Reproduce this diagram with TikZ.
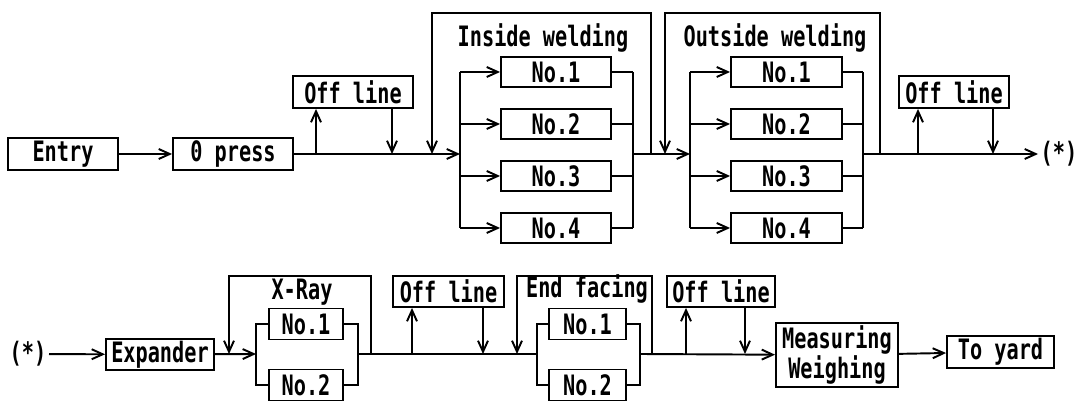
\documentclass[tikz,border=0pt]{standalone}
\usepackage{fontspec}
\setmonofont{DejaVu Sans Mono}[FakeStretch=0.72]
\usepackage{tikz}
\usetikzlibrary{arrows.meta}
\tikzset{blk/.style={draw,line width=1.1pt,inner sep=0pt,font=\ttfamily\bfseries\fontsize{16}{17}\selectfont},
lbl/.style={inner sep=1pt,font=\ttfamily\bfseries\fontsize{16}{17}\selectfont}}

\begin{document}
\begin{tikzpicture}[x=0.02cm,y=-0.02cm,line width=1.1pt,>={Straight Barb[length=2.2mm,width=2mm]}]
\useasboundingbox(0,0)rectangle(1085,401);
\node[blk,minimum width=2.2cm,minimum height=0.64cm](entry)at(63,154){Entry};
\node[blk,minimum width=2.4cm,minimum height=0.64cm](press)at(233,154){0 press};
\node[blk,minimum width=2.4cm,minimum height=0.64cm](off1)at(353,92){Off line};
\node[lbl](inlbl)at(543,38){Inside welding};
\node[lbl](outlbl)at(775,38){Outside welding};
\foreach \i/\y in {1/72,2/124,3/176,4/228}{
\node[blk,minimum width=2.2cm,minimum height=0.6cm](in\i)at(556,\y){No.\i};
\node[blk,minimum width=2.22cm,minimum height=0.6cm](out\i)at(786.5,\y){No.\i};}
\node[blk,minimum width=2.2cm,minimum height=0.64cm](off2)at(954,92){Off line};
\node[lbl,anchor=west](star1)at(1038,154){(*)};
\coordinate(up1)at(316,154);\coordinate(dn1)at(392,154);
\coordinate(lp1)at(432,154);\coordinate(fk1)at(460,154);
\coordinate(mg1)at(633,154);\coordinate(rt1)at(651,154);
\coordinate(lp2)at(665,154);\coordinate(fk2)at(690,154);
\coordinate(mg2)at(863,154);\coordinate(rt2)at(880,154);
\coordinate(up2)at(918,154);\coordinate(dn2)at(993,154);
\draw[->](entry)--(press);
\draw[->](press)--(fk1);
\draw[->](up1)--(up1|-off1.south);
\draw[->](dn1|-off1.south)--(dn1);
\draw[->](rt1)--++(0,-141)-|(lp1);
\draw(fk1|-in1)--(fk1|-in4);
\draw(mg1|-in1)--(mg1|-in4);
\draw[->](mg1)--(fk2);
\draw[->](rt2)--++(0,-141)-|(lp2);
\draw(fk2|-out1)--(fk2|-out4);
\draw(mg2|-out1)--(mg2|-out4);
\foreach \i in {1,...,4}{
\draw[->](fk1|-in\i)--(in\i);\draw(in\i)--(mg1|-in\i);
\draw[->](fk2|-out\i)--(out\i);\draw(out\i)--(mg2|-out\i);}
\draw[->](mg2)--(star1);
\draw[->](up2)--(up2|-off2.south);
\draw[->](dn2|-off2.south)--(dn2);

\node[lbl](star2)at(28,354){(*)};
\node[blk,minimum width=2.16cm,minimum height=0.62cm](exp)at(160,354.5){Expander};
\node[lbl](xlbl)at(302,292){X-Ray};
\node[blk,minimum width=1.48cm,minimum height=0.62cm](xr1)at(306,324){No.1};
\node[blk,minimum width=1.48cm,minimum height=0.62cm](xr2)at(306,385){No.2};
\node[blk,minimum width=2.22cm,minimum height=0.62cm](off3)at(448.5,291.5){Off line};
\node[lbl](eflbl)at(587,289){End facing};
\node[blk,minimum width=1.54cm,minimum height=0.62cm](ef1)at(587.5,324){No.1};
\node[blk,minimum width=1.54cm,minimum height=0.62cm](ef2)at(587.5,385){No.2};
\node[blk,minimum width=2.16cm,minimum height=0.62cm](off4)at(721,291.5){Off line};
\node[blk,minimum width=2.44cm,minimum height=1.28cm,align=center](meas)at(837,355){Measuring\\Weighing};
\node[blk,minimum width=2.14cm,minimum height=0.64cm](yard)at(1000.5,352){To yard};
\coordinate(lp3)at(229,354);\coordinate(fk3)at(256,354);
\coordinate(mg3)at(358,354);\coordinate(rt3)at(371,354);
\coordinate(up3)at(412,354);\coordinate(dn3)at(483,354);
\coordinate(lp4)at(517,354);\coordinate(fk4)at(537,354);
\coordinate(mg4)at(640,354);\coordinate(rt4)at(652,354);
\coordinate(up4)at(686,354);\coordinate(dn4)at(745,354);
\draw[->](star2)--(exp);
\draw[->](exp)--(fk3);
\draw[->](rt3)--++(0,-78)-|(lp3);
\draw(xr1)-|(fk3|-xr2)--(xr2);
\draw(xr1)-|(mg3|-xr2)--(xr2);
\draw(mg3)--(fk4);
\draw[->](up3)--(up3|-off3.south);
\draw[->](dn3|-off3.south)--(dn3);
\draw[->](rt4)--++(0,-78)-|(lp4);
\draw(ef1)-|(fk4|-ef2)--(ef2);
\draw(ef1)-|(mg4|-ef2)--(ef2);
\draw[->](mg4)--(meas);
\draw[->](up4)--(up4|-off4.south);
\draw[->](dn4|-off4.south)--(dn4);
\draw[->](meas)--(yard);
\end{tikzpicture}
\end{document}
